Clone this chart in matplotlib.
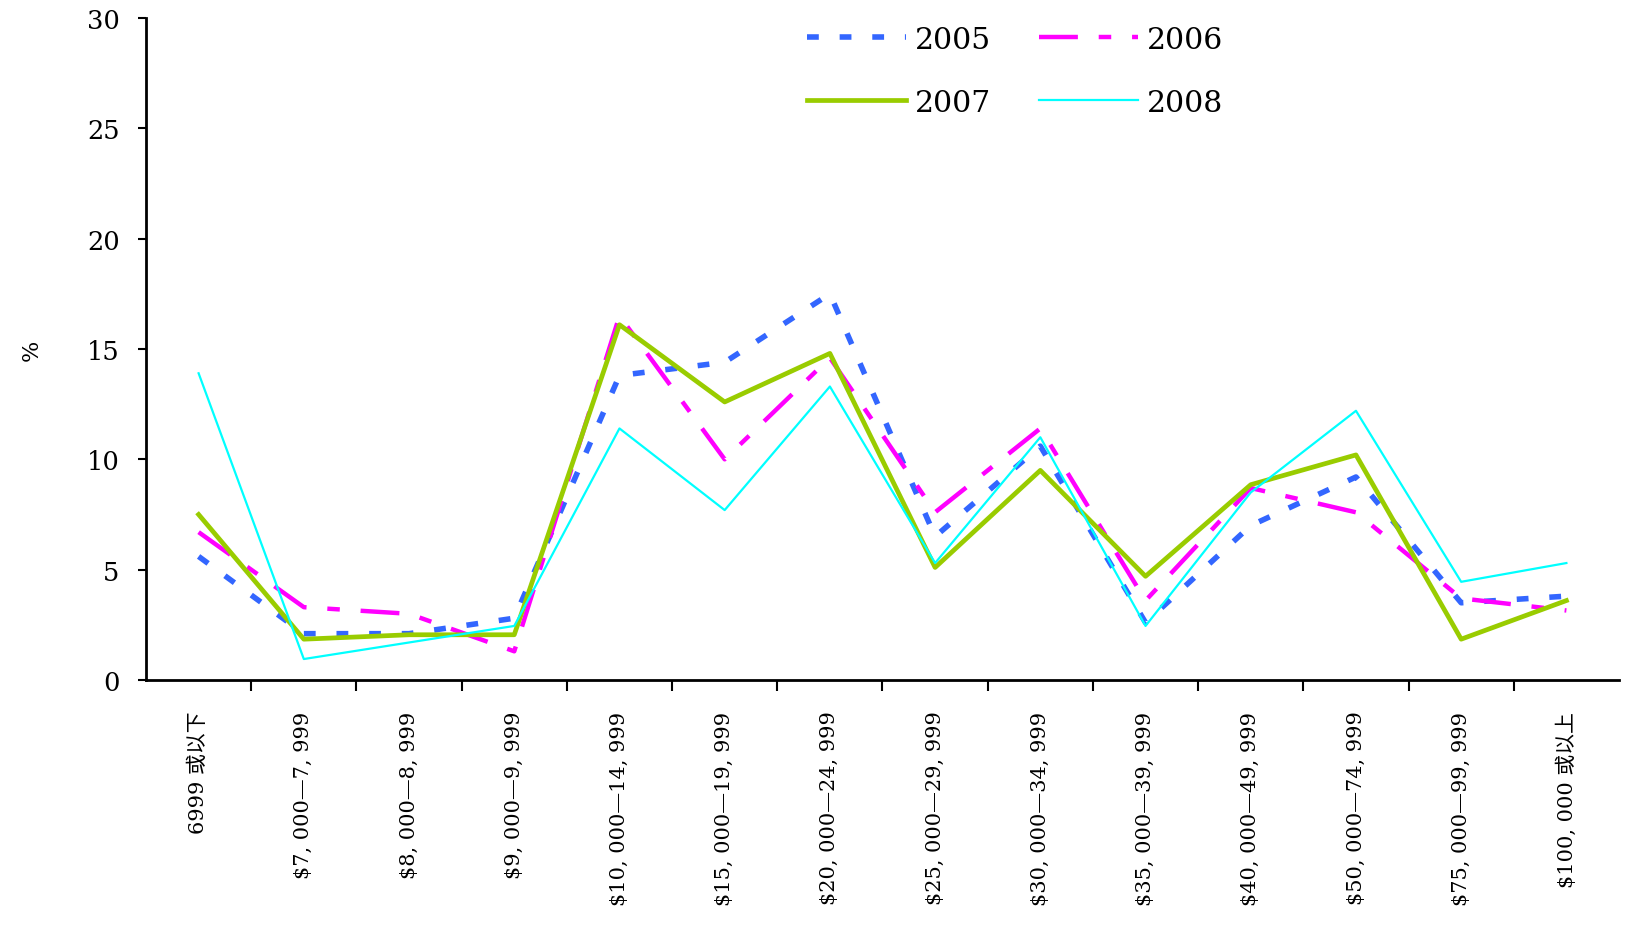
import numpy as np
import matplotlib
matplotlib.use('Agg')
import matplotlib.pyplot as plt

plt.rcParams['font.family'] = ['DejaVu Serif', 'Noto Sans CJK SC']
plt.rcParams['lines.scale_dashes'] = False

# data
categories = ['6999 或以下', '$7, 000—7, 999', '$8, 000—8, 999', '$9, 000—9, 999',
              '$10, 000—14, 999', '$15, 000—19, 999', '$20, 000—24, 999',
              '$25, 000—29, 999', '$30, 000—34, 999', '$35, 000—39, 999',
              '$40, 000—49, 999', '$50, 000—74, 999', '$75, 000—99, 999',
              '$100, 000 或以上']
y2005 = [5.6, 2.1, 2.1, 2.8, 13.8, 14.4, 17.5, 6.5, 10.6, 2.6, 7.0, 9.2, 3.5, 3.8]
y2006 = [6.7, 3.3, 3.0, 1.3, 16.5, 10.0, 14.6, 7.6, 11.4, 3.6, 8.7, 7.6, 3.7, 3.15]
y2007 = [7.5, 1.85, 2.05, 2.05, 16.1, 12.6, 14.8, 5.1, 9.5, 4.7, 8.85, 10.2, 1.85, 3.6]
y2008 = [13.9, 0.95, 1.7, 2.45, 11.4, 7.7, 13.3, 5.3, 11.0, 2.45, 8.5, 12.2, 4.45, 5.3]

x = np.arange(len(categories))

fig = plt.figure(figsize=(16.33, 9.29), dpi=100)
ax = fig.add_axes([146/1633, 1 - 681/929, (1619 - 146)/1633, (681 - 19)/929])

l05, = ax.plot(x, y2005, color='#3366FF', lw=4.0, dashes=(8.5, 15), label='2005')
l06, = ax.plot(x, y2006, color='#FF00FF', lw=3.2, dashes=(28, 15, 9, 15), label='2006')
l07, = ax.plot(x, y2007, color='#99CC00', lw=3.4, label='2007')
l08, = ax.plot(x, y2008, color='#00FFFF', lw=1.6, label='2008')

ax.set_xlim(-0.5, 13.5)
ax.set_ylim(0, 30)
ax.set_yticks([0, 5, 10, 15, 20, 25, 30])
ax.set_xticks(x)
ax.set_xticklabels(categories, rotation=90, va='top', ha='center', fontsize=15)
ax.set_xticks(np.arange(0.5, 13, 1), minor=True)
ax.tick_params(axis='x', which='major', length=0, pad=22)
ax.tick_params(axis='x', which='minor', length=8, width=1.5, direction='out')
ax.tick_params(axis='y', labelsize=18.5, length=6, width=1.5, pad=13)

for s in ['top', 'right']:
    ax.spines[s].set_visible(False)
ax.spines['left'].set_linewidth(2)
ax.spines['bottom'].set_linewidth(2)

ax.set_ylabel('%', fontsize=16, labelpad=32)

fig.legend([l05, l07, l06, l08], ['2005', '2007', '2006', '2008'], ncol=2,
           frameon=False, fontsize=21.5, handlelength=3.3, handletextpad=0.3,
           columnspacing=1.6, labelspacing=1.17, loc='upper left',
           bbox_to_anchor=(0.478, 1.0), bbox_transform=fig.transFigure)

fig.savefig('out.png', dpi=100)
